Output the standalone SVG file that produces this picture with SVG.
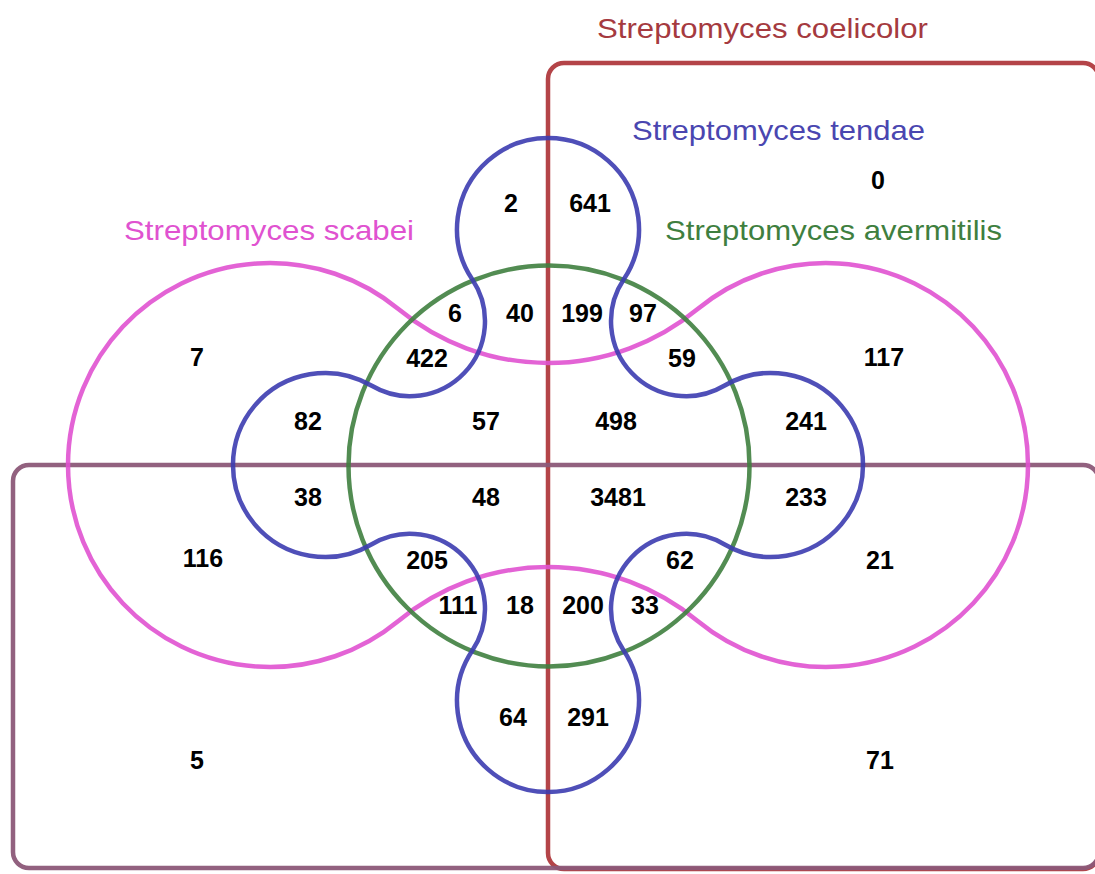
<svg xmlns="http://www.w3.org/2000/svg" width="1095" height="874" viewBox="0 0 1095 874">
<style>
.set{fill:none;stroke-width:4.5;stroke-linejoin:round}
.lbl{font-family:"Liberation Sans",Arial,sans-serif;font-size:28px}
.num{font-family:"Liberation Sans",Arial,sans-serif;font-size:25px;font-weight:bold;fill:#000;text-anchor:middle}
</style>
<rect width="1095" height="874" fill="#fff"/>
<g id="coelicolor">
<rect class="set" x="548" y="63" width="551" height="806" rx="16" stroke="#b03a3e" opacity="0.95"/>
<text class="lbl" x="597" y="38" fill="#a53a40" textLength="331" lengthAdjust="spacingAndGlyphs">Streptomyces coelicolor</text>
</g>
<g id="fifth-set">
<rect class="set" x="13" y="465" width="1086" height="403" rx="16" stroke="#8c5878" opacity="0.95"/>
</g>
<g id="scabei">
<path class="set" stroke="#e052d0" opacity="0.9" d="M398.7,309.3 A234.4,234.4 0 0 0 697.3,309.3 A202,202 0 1 1 697.3,620.7 A234.4,234.4 0 0 0 398.7,620.7 A202,202 0 1 1 398.7,309.3 Z"/>
<text class="lbl" x="124" y="240" fill="#e052d0" textLength="290" lengthAdjust="spacingAndGlyphs">Streptomyces scabei</text>
</g>
<g id="avermitilis">
<circle class="set" cx="549" cy="466" r="200.5" stroke="#3f7f3f" opacity="0.9"/>
<text class="lbl" x="665" y="240" fill="#3f7f3f" textLength="337" lengthAdjust="spacingAndGlyphs">Streptomyces avermitilis</text>
</g>
<g id="tendae">
<path class="set" stroke="#3c3cb0" opacity="0.9" d="M472.35,279.6 A91,91 0 1 1 623.65,279.6 A75,75 0 0 0 724.2,385.8 A92,92 0 1 1 724.2,544.2 A75,75 0 0 0 623.65,650.4 A91,91 0 1 1 472.35,650.4 A75,75 0 0 0 371.8,544.2 A92,92 0 1 1 371.8,385.8 A75,75 0 0 0 472.35,279.6 Z"/>
<text class="lbl" x="632" y="140" fill="#4a46b0" textLength="293" lengthAdjust="spacingAndGlyphs">Streptomyces tendae</text>
</g>
<g id="counts">
<text class="num" x="878" y="189">0</text>
<text class="num" x="511" y="212">2</text>
<text class="num" x="590" y="212">641</text>
<text class="num" x="455" y="322">6</text>
<text class="num" x="520" y="322">40</text>
<text class="num" x="582" y="322">199</text>
<text class="num" x="643" y="322">97</text>
<text class="num" x="427" y="367">422</text>
<text class="num" x="682" y="367">59</text>
<text class="num" x="197" y="366">7</text>
<text class="num" x="884" y="366">117</text>
<text class="num" x="308" y="430">82</text>
<text class="num" x="486" y="430">57</text>
<text class="num" x="616" y="430">498</text>
<text class="num" x="806" y="430">241</text>
<text class="num" x="308" y="506">38</text>
<text class="num" x="486" y="506">48</text>
<text class="num" x="618" y="506">3481</text>
<text class="num" x="806" y="506">233</text>
<text class="num" x="203" y="567">116</text>
<text class="num" x="427" y="569">205</text>
<text class="num" x="680" y="569">62</text>
<text class="num" x="880" y="569">21</text>
<text class="num" x="458" y="614">111</text>
<text class="num" x="520" y="614">18</text>
<text class="num" x="583" y="614">200</text>
<text class="num" x="645" y="614">33</text>
<text class="num" x="513" y="726">64</text>
<text class="num" x="588" y="726">291</text>
<text class="num" x="197" y="769">5</text>
<text class="num" x="880" y="769">71</text>
</g>
</svg>
